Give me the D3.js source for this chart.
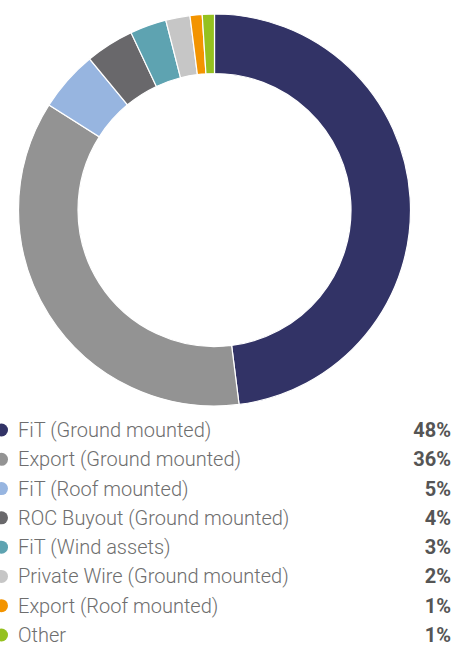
<!DOCTYPE html>
<html lang="en">
<head>
<meta charset="utf-8"/>
<title>Donut chart</title>
<script src="https://d3js.org/d3.v7.min.js"></script>
<style>
  body { margin: 0; background: #fff; }
  svg { display: block; }
</style>
</head>
<body>
<script>
// data
var categories = ["FiT (Ground mounted)", "Export (Ground mounted)", "FiT (Roof mounted)",
                  "ROC Buyout (Ground mounted)", "FiT (Wind assets)", "Private Wire (Ground mounted)",
                  "Export (Roof mounted)", "Other"];
var values = [48, 36, 5, 4, 3, 2, 1, 1];
var colours = ["#323366", "#939393", "#97b5e0", "#69686b", "#5ea3b1", "#c6c6c6", "#f39400", "#95c11f"];

var w = 454;
var h = 646;

var svg = d3.select("body")
            .append("svg")
            .attr("width", w)
            .attr("height", h);

// donut
var pie = d3.pie().sort(null);
var arc = d3.arc().innerRadius(136.5).outerRadius(196);

var g = svg.append("g")
           .attr("transform", "translate(214.5,210)");

g.selectAll("path")
 .data(pie(values))
 .enter()
 .append("path")
 .attr("d", arc)
 .attr("fill", function (d, i) {return colours[i];})
 .attr("stroke", "#fff")
 .attr("stroke-width", 1.2);

// legend
var yScale = d3.scalePoint()
               .domain(categories)
               .range([430, 635]);

var rows = svg.selectAll("g.row")
              .data(categories)
              .enter()
              .append("g")
              .attr("class", "row")
              .attr("transform", function (d) {return "translate(0," + yScale(d) + ")";});

rows.append("circle")
    .attr("cx", 1.5)
    .attr("cy", 0)
    .attr("r", 6.5)
    .attr("fill", function (d, i) {return colours[i];});

rows.append("text")
    .attr("x", 18)
    .attr("y", 0)
    .attr("dy", "0.35em")
    .attr("font-family", "Roboto, sans-serif")
    .attr("font-size", 20)
    .attr("font-weight", 300)
    .attr("fill", "#6e6e6e")
    .text(function (d) {return d;});

rows.append("text")
    .attr("x", 451)
    .attr("y", 0)
    .attr("dy", "0.35em")
    .attr("text-anchor", "end")
    .attr("font-family", "Roboto, sans-serif")
    .attr("font-size", 20)
    .attr("font-weight", "bold")
    .attr("fill", "#555")
    .text(function (d, i) {return values[i] + "%";});
</script>
</body>
</html>
